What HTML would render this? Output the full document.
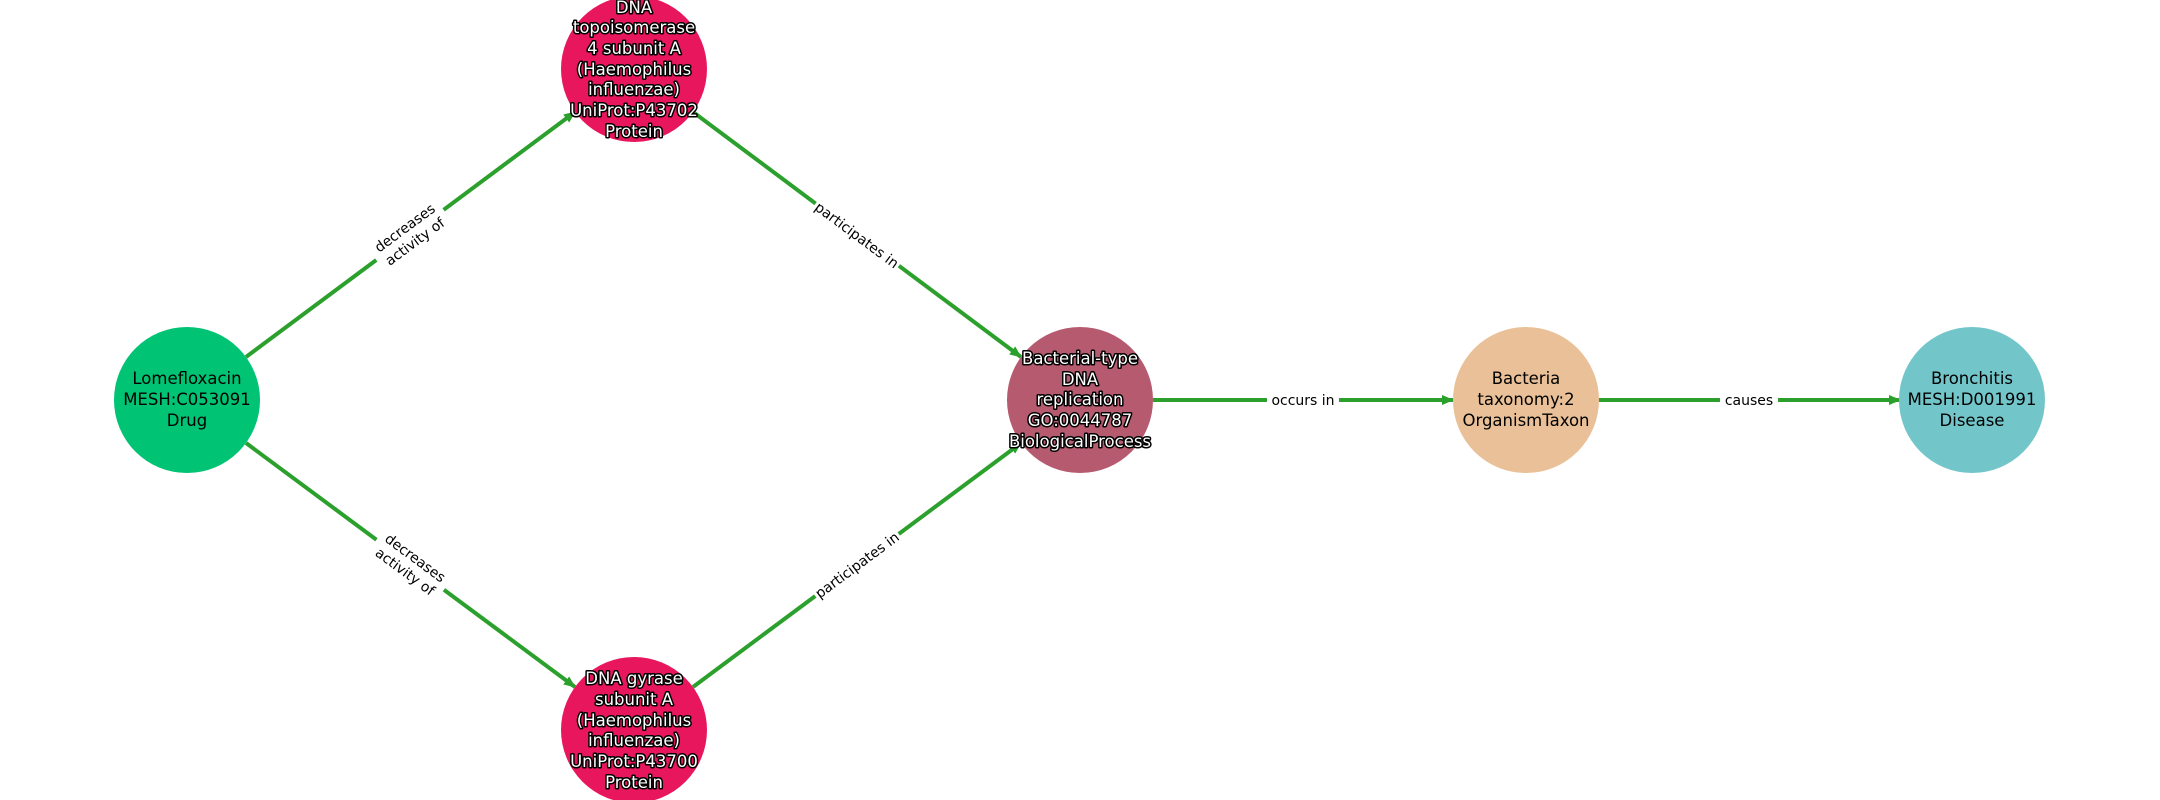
<!DOCTYPE html>
<html><head><meta charset="utf-8"><style>
html,body{margin:0;padding:0;background:#fff;width:2160px;height:800px;overflow:hidden}
text{font-family:"DejaVu Sans","Liberation Sans",sans-serif}
.n{font-size:16.5px;text-anchor:middle}
.w{fill:#fff;stroke:#000;stroke-width:3px;paint-order:stroke;stroke-linejoin:round}
.e{font-size:14px;text-anchor:middle;fill:#000}
</style></head><body>
<svg width="2160" height="800" viewBox="0 0 2160 800" xmlns="http://www.w3.org/2000/svg">
<defs><marker id="a" markerWidth="12" markerHeight="10" refX="11" refY="5" orient="auto" markerUnits="userSpaceOnUse"><path d="M0,0 L12,5 L0,10 z" fill="#2ca02c"/></marker></defs>
<g stroke="#2ca02c" stroke-width="4" fill="none" marker-end="url(#a)">
<line x1="246" y1="357" x2="575" y2="112"/>
<line x1="246" y1="443" x2="575" y2="687"/>
<line x1="693" y1="112" x2="1021" y2="357"/>
<line x1="693" y1="687" x2="1021" y2="443"/>
<line x1="1153" y1="400" x2="1453" y2="400"/>
<line x1="1599" y1="400" x2="1900" y2="400"/>
</g>
<g transform="translate(410,235) rotate(-36.5)"><rect x="-42" y="-20" width="84" height="38" fill="#fff"/><text class="e" y="-4">decreases</text><text class="e" y="13">activity of</text></g>
<g transform="translate(410,565) rotate(36.5)"><rect x="-42" y="-20" width="84" height="38" fill="#fff"/><text class="e" y="-4">decreases</text><text class="e" y="13">activity of</text></g>
<g transform="translate(857,235) rotate(36.6)"><rect x="-52" y="-11" width="104" height="22" fill="#fff"/><text class="e" y="5">participates in</text></g>
<g transform="translate(857,565) rotate(-36.6)"><rect x="-52" y="-11" width="104" height="22" fill="#fff"/><text class="e" y="5">participates in</text></g>
<rect x="1267" y="389" width="72" height="22" fill="#fff"/><text class="e" x="1303" y="405">occurs in</text>
<rect x="1720" y="389" width="58" height="22" fill="#fff"/><text class="e" x="1749" y="405">causes</text>
<circle cx="187" cy="400" r="73" fill="#00c373"/>
<circle cx="634" cy="69" r="73" fill="#e8175d"/>
<circle cx="634" cy="730" r="73" fill="#e8175d"/>
<circle cx="1080" cy="400" r="73" fill="#b55a6f"/>
<circle cx="1526" cy="400" r="73" fill="#e9c097"/>
<circle cx="1972" cy="400" r="73" fill="#72c6ca"/>
<g class="n"><text x="187" y="384">Lomefloxacin</text><text x="187" y="405">MESH:C053091</text><text x="187" y="426">Drug</text></g>
<g class="n w"><text x="634" y="13">DNA</text><text x="634" y="33">topoisomerase</text><text x="634" y="54">4 subunit A</text><text x="634" y="75">(Haemophilus</text><text x="634" y="95">influenzae)</text><text x="634" y="116">UniProt:P43702</text><text x="634" y="137">Protein</text></g>
<g class="n w"><text x="634" y="684">DNA gyrase</text><text x="634" y="705">subunit A</text><text x="634" y="726">(Haemophilus</text><text x="634" y="746">influenzae)</text><text x="634" y="767">UniProt:P43700</text><text x="634" y="788">Protein</text></g>
<g class="n w"><text x="1080" y="364">Bacterial-type</text><text x="1080" y="385">DNA</text><text x="1080" y="405">replication</text><text x="1080" y="426">GO:0044787</text><text x="1080" y="447">BiologicalProcess</text></g>
<g class="n"><text x="1526" y="384">Bacteria</text><text x="1526" y="405">taxonomy:2</text><text x="1526" y="426">OrganismTaxon</text></g>
<g class="n"><text x="1972" y="384">Bronchitis</text><text x="1972" y="405">MESH:D001991</text><text x="1972" y="426">Disease</text></g>
</svg>
</body></html>
